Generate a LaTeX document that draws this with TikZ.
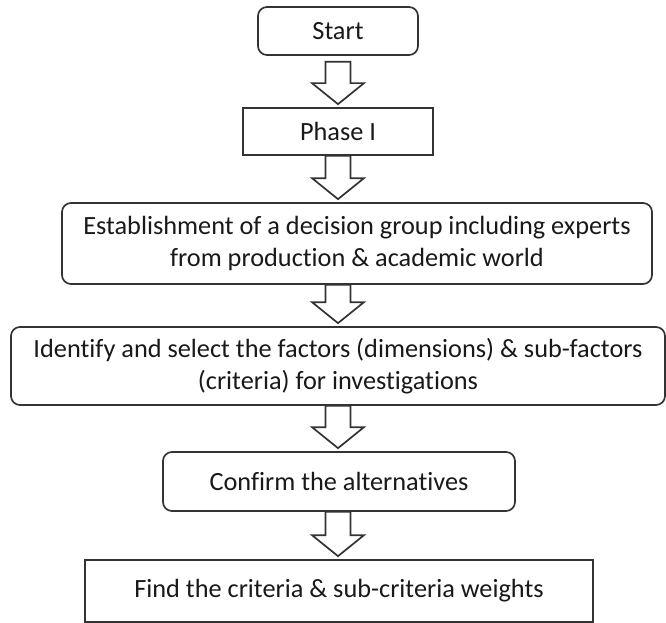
\documentclass[tikz,border=0pt]{standalone}
\usepackage{fontspec}
\setmainfont{Carlito}[Ligatures={NoCommon}]
\usetikzlibrary{calc}
\tikzset{
  box/.style={draw=black!80, line width=1.7pt, fill=white, align=center, inner sep=0pt,
    text=black!90, font=\fontsize{26.3}{32}\selectfont},
  roundbox/.style={box, rounded corners=9pt},
  blockarr/.style={draw=black!80, line width=1.7pt, fill=white, line join=miter},
}
% hollow block arrow from the bottom of #1 to the top of #2, on the column of (start)
\newcommand\flowarrow[3][0pt]{%
  \draw[blockarr] let \p1=(start |- #2.south), \p2=(start |- #3.north) in
    (\x1-12.5pt,\y1-#1) -- (\x1+12.5pt,\y1-#1) -- (\x1+12.5pt,\y2+24pt) -- (\x1+26pt,\y2+24pt)
    -- (\x1,\y2+3pt) -- (\x1-26pt,\y2+24pt) -- (\x1-12.5pt,\y2+24pt) -- cycle;}
\begin{document}
\begin{tikzpicture}[x=1pt, y=-1pt]
\useasboundingbox (0,0) rectangle (666,623);
\node[roundbox, minimum width=160pt, minimum height=48pt] (start) at (338,31) {Start};
\node[box, minimum width=190pt, minimum height=47pt] (phase) at (338,131.5) {Phase I};
\node[roundbox, minimum width=590pt, minimum height=81pt] (group) at (357,243.5)
  {Establishment of a decision group including experts\\ from production \& academic world};
\node[roundbox, minimum width=654pt, minimum height=78pt] (factors) at (338,366)
  {Identify and select the factors (dimensions) \& sub-factors\\ (criteria) for investigations};
\node[roundbox, minimum width=352pt, minimum height=59pt] (alter) at (339,481.5) {Confirm the alternatives};
\node[box, minimum width=508pt, minimum height=62pt] (weights) at (339,591) {Find the criteria \& sub-criteria weights};
\flowarrow[6pt]{start}{phase}
\flowarrow{phase}{group}
\flowarrow{group}{factors}
\flowarrow{factors}{alter}
\flowarrow{alter}{weights}
\end{tikzpicture}
\end{document}
